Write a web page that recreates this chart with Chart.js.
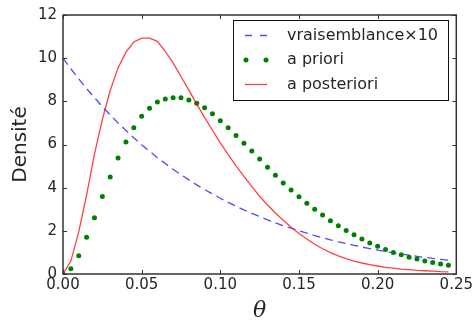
<!DOCTYPE html>
<html>
<head>
<meta charset="utf-8">
<script src="https://cdn.jsdelivr.net/npm/chart.js@4/dist/chart.umd.min.js"></script>
<style>
html,body{margin:0;padding:0;background:#fff;}
canvas{display:block;}
</style>
</head>
<body>
<canvas id="c" width="475" height="324"></canvas>
<script>
// ---- data ----
const theta = [0,0.005,0.01,0.015,0.02,0.025,0.03,0.035,0.04,0.045,0.05,0.055,0.06,0.065,0.07,0.075,0.08,0.085,0.09,0.095,
  0.1,0.105,0.11,0.115,0.12,0.125,0.13,0.135,0.14,0.145,0.15,0.155,0.16,0.165,0.17,0.175,0.18,0.185,0.19,0.195,
  0.2,0.205,0.21,0.215,0.22,0.225,0.23,0.235,0.24,0.245];
const vraisemblance = [10.0,9.51,9.04,8.59,8.17,7.76,7.37,7.00,6.65,6.31,5.99,5.69,5.39,5.12,4.85,4.60,4.36,4.13,3.91,3.71,
  3.51,3.32,3.14,2.97,2.81,2.66,2.51,2.37,2.24,2.12,2.00,1.89,1.78,1.68,1.58,1.49,1.41,1.33,1.25,1.18,
  1.11,1.04,0.98,0.92,0.87,0.82,0.77,0.72,0.68,0.64];
const priori = [0,0.24,0.84,1.70,2.61,3.59,4.50,5.37,6.12,6.78,7.31,7.68,7.97,8.11,8.17,8.17,8.06,7.91,7.70,7.42,
  7.10,6.78,6.42,6.06,5.70,5.33,4.95,4.58,4.22,3.89,3.58,3.28,3.00,2.73,2.47,2.23,2.02,1.82,1.62,1.44,
  1.28,1.14,1.00,0.89,0.78,0.69,0.60,0.53,0.46,0.40];
const posteriori = [0,0.6,1.95,3.65,5.55,7.15,8.50,9.55,10.28,10.75,10.93,10.93,10.78,10.32,9.78,9.15,8.52,7.87,7.26,6.66,
  6.08,5.53,5.01,4.52,4.06,3.60,3.20,2.83,2.49,2.17,1.88,1.62,1.38,1.17,0.99,0.84,0.71,0.60,0.51,0.43,
  0.37,0.31,0.27,0.23,0.20,0.17,0.15,0.13,0.11,0.10];
const seriesNames = ['vraisemblance\u00d710', 'a priori', 'a posteriori'];
const xTicks = [0, 0.05, 0.10, 0.15, 0.20, 0.25];
const yTicks = [0, 2, 4, 6, 8, 10, 12];

const pts = arr => theta.map((t, i) => ({x: t, y: arr[i]}));

const BLUE = 'rgba(0,0,255,0.7)';
const GREEN = '#008000';
const RED = 'rgba(255,0,0,0.75)';
const TXT = '#262626';

const framePlugin = {
  id: 'frame',
  afterDatasetsDraw(chart) {
    const ctx = chart.ctx;
    const a = chart.chartArea;
    const xs = chart.scales.x, ys = chart.scales.y;
    ctx.save();
    ctx.strokeStyle = '#333';
    ctx.lineWidth = 1;
    // inward ticks on all four sides
    ctx.beginPath();
    xTicks.forEach(v => {
      const px = Math.round(xs.getPixelForValue(v)) + 0.5;
      ctx.moveTo(px, a.bottom); ctx.lineTo(px, a.bottom - 4);
      ctx.moveTo(px, a.top); ctx.lineTo(px, a.top + 4);
    });
    yTicks.forEach(v => {
      const py = Math.round(ys.getPixelForValue(v)) + 0.5;
      ctx.moveTo(a.left, py); ctx.lineTo(a.left + 4, py);
      ctx.moveTo(a.right, py); ctx.lineTo(a.right - 4, py);
    });
    ctx.stroke();
    // frame
    ctx.lineWidth = 1.5;
    ctx.strokeStyle = '#333';
    ctx.strokeRect(a.left, a.top, a.right - a.left, a.bottom - a.top);

    // legend box
    const lx = 233.5, ly = 20.5, lw = 215, lh = 80;
    ctx.fillStyle = '#fff';
    ctx.fillRect(lx, ly, lw, lh);
    ctx.lineWidth = 1;
    ctx.strokeStyle = '#111';
    ctx.strokeRect(lx, ly, lw, lh);
    const rows = [35.5, 60, 84.5];
    const sx0 = 245, sx1 = 267, tx = 287;
    // blue dashed
    ctx.save();
    ctx.strokeStyle = BLUE;
    ctx.lineWidth = 1.3;
    ctx.setLineDash([7, 8]);
    ctx.beginPath(); ctx.moveTo(sx0, rows[0]); ctx.lineTo(sx1 + 1, rows[0]); ctx.stroke();
    ctx.restore();
    // green dots
    ctx.fillStyle = GREEN;
    [sx0 + 1, sx1 - 1].forEach(x => { ctx.beginPath(); ctx.arc(x, rows[1], 2.5, 0, Math.PI * 2); ctx.fill(); });
    // red line
    ctx.strokeStyle = RED;
    ctx.lineWidth = 1.3;
    ctx.beginPath(); ctx.moveTo(sx0, rows[2]); ctx.lineTo(sx1, rows[2]); ctx.stroke();
    // texts
    ctx.fillStyle = TXT;
    ctx.font = '16px "DejaVu Sans"';
    ctx.textBaseline = 'middle';
    ctx.textAlign = 'left';
    seriesNames.forEach((n, i) => ctx.fillText(n, tx, rows[i]));
    ctx.restore();
  }
};

new Chart(document.getElementById('c'), {
  type: 'line',
  data: {
    datasets: [
      {label: seriesNames[0], data: pts(vraisemblance), borderColor: BLUE, borderWidth: 1.3,
       borderDash: [8, 5], pointRadius: 0, fill: false, tension: 0, clip: 0, order: 3},
      {label: seriesNames[1], data: pts(priori), showLine: false, pointRadius: 2.5, pointBorderWidth: 0,
       pointBackgroundColor: GREEN, backgroundColor: GREEN, borderColor: GREEN, clip: 0, order: 2},
      {label: seriesNames[2], data: pts(posteriori), borderColor: RED, borderWidth: 1.3,
       pointRadius: 0, fill: false, tension: 0, clip: 0, order: 1}
    ]
  },
  options: {
    responsive: false,
    animation: false,
    devicePixelRatio: 1,
    layout: {padding: {top: 12, right: 18, left: 0, bottom: 0}},
    plugins: {legend: {display: false}, tooltip: {enabled: false}},
    scales: {
      x: {
        type: 'linear', min: 0, max: 0.25,
        afterFit: s => { s.height = 50; },
        afterBuildTicks: s => { s.ticks = xTicks.map(v => ({value: v})); },
        grid: {display: false, drawTicks: false},
        border: {display: false},
        ticks: {color: TXT, font: {family: 'DejaVu Sans', size: 15}, padding: 2,
                maxRotation: 0, autoSkip: false, callback: v => Number(v).toFixed(2)},
        title: {display: true, text: '\u03b8', color: TXT,
                font: {family: 'DejaVu Serif', size: 22, style: 'italic'}, padding: {top: 0, bottom: 0}}
      },
      y: {
        type: 'linear', min: 0, max: 12,
        afterFit: s => { s.width = 63; },
        afterBuildTicks: s => { s.ticks = yTicks.map(v => ({value: v})); },
        grid: {display: false, drawTicks: false},
        border: {display: false},
        ticks: {color: TXT, font: {family: 'DejaVu Sans', size: 15}, padding: 6},
        title: {display: true, text: 'Densité', color: TXT,
                font: {family: 'DejaVu Sans', size: 20}, padding: {top: 9, bottom: 0}}
      }
    }
  },
  plugins: [framePlugin]
});
</script>
</body>
</html>
